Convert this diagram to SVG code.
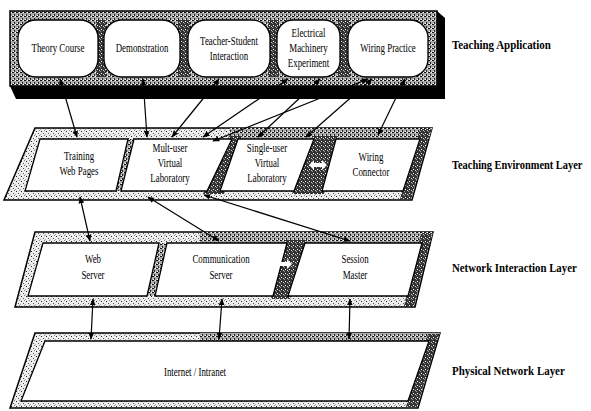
<svg xmlns="http://www.w3.org/2000/svg" width="591" height="411" viewBox="0 0 591 411">
<style>
.box{fill:#fff;stroke:#000;stroke-width:1.3}
.outer{stroke:#000;stroke-width:1.5}
.lbl{font-family:"Liberation Serif","Times New Roman",serif;font-size:12px;fill:#000;text-anchor:middle}
.layer{font-family:"Liberation Serif","Times New Roman",serif;font-size:13.5px;font-weight:bold;fill:#000}
.con{fill:none;stroke:#000;stroke-width:1.2;marker-start:url(#ah);marker-end:url(#ah)}
.warrow{fill:#fff;stroke:none}
</style>
<defs>
<pattern id="ht1" width="5" height="5" patternUnits="userSpaceOnUse"><rect width="5" height="5" fill="#eee"/><rect x="1" y="1" width="1" height="1" fill="#222"/><rect x="3" y="3" width="1" height="1" fill="#555"/><rect x="4" y="0" width="1" height="1" fill="#888"/><rect x="0" y="4" width="1" height="1" fill="#aaa"/></pattern>
<pattern id="ht2" width="4" height="4" patternUnits="userSpaceOnUse"><rect width="4" height="4" fill="#aaa"/><rect x="0" y="0" width="2" height="1" fill="#111"/><rect x="2" y="2" width="1" height="2" fill="#222"/><rect x="3" y="0" width="1" height="1" fill="#fff"/><rect x="1" y="3" width="1" height="1" fill="#fff"/></pattern>
<pattern id="ht3" width="4" height="4" patternUnits="userSpaceOnUse"><rect width="4" height="4" fill="#333"/><rect x="1" y="1" width="1" height="1" fill="#fff"/><rect x="3" y="2" width="1" height="1" fill="#ccc"/><rect x="0" y="3" width="1" height="1" fill="#999"/></pattern>
<marker id="ah" viewBox="0 0 10 10" refX="9" refY="5" markerWidth="7" markerHeight="7" markerUnits="userSpaceOnUse" orient="auto-start-reverse"><path d="M0,1 L10,5 L0,9 z" fill="#000"/></marker>
</defs>

<!-- Teaching Application layer -->
<g id="layer-application">
<polygon points="10,86 437,86 437,11 445,18 445,99 16,99" fill="#000"/>
<rect x="10" y="11" width="427" height="75" fill="url(#ht2)" class="outer"/>
<polygon points="96,20 106,20 106,77 96,77" fill="url(#ht3)"/>
<polygon points="178,20 190,20 190,77 178,77" fill="url(#ht3)"/>
<polygon points="268,20 279,20 279,77 268,77" fill="url(#ht3)"/>
<polygon points="338,20 350,20 350,77 338,77" fill="url(#ht3)"/>
<text class="layer" transform="translate(452 49) scale(0.81 1)">Teaching Application</text>
</g>
<g id="node-theory-course">
<rect class="box" x="18" y="20" width="80" height="57" rx="18"/>
<text class="lbl" transform="translate(58 52) scale(0.74 1)">Theory Course</text>
</g>
<g id="node-demonstration">
<rect class="box" x="104" y="20" width="76" height="57" rx="18"/>
<text class="lbl" transform="translate(142 52) scale(0.74 1)">Demonstration</text>
</g>
<g id="node-teacher-student">
<rect class="box" x="188" y="20" width="82" height="57" rx="18"/>
<text class="lbl" transform="translate(229 45) scale(0.74 1)">Teacher-Student</text>
<text class="lbl" transform="translate(229 60) scale(0.74 1)">Interaction</text>
</g>
<g id="node-electrical-machinery">
<rect class="box" x="277" y="20" width="63" height="57" rx="16"/>
<text class="lbl" transform="translate(308.5 37) scale(0.74 1)">Electrical</text>
<text class="lbl" transform="translate(308.5 52) scale(0.74 1)">Machinery</text>
<text class="lbl" transform="translate(308.5 67) scale(0.74 1)">Experiment</text>
</g>
<g id="node-wiring-practice">
<rect class="box" x="348" y="20" width="80" height="57" rx="18"/>
<text class="lbl" transform="translate(388 52) scale(0.74 1)">Wiring Practice</text>
</g>

<!-- Teaching Environment Layer -->
<g id="layer-environment">
<polygon class="outer" points="35,128 432,128 412,200 4,200" fill="url(#ht1)"/>
<polygon points="230,128 432,128 429,139 230,139" fill="url(#ht2)"/>
<polygon points="229,136 242,136 224,194 203,194" fill="url(#ht3)"/>
<polygon points="313,136 338,136 324,194 292,194" fill="url(#ht3)"/>
<polygon points="420,129 431,129 411,199 400,199" fill="url(#ht3)"/>
<polygon points="128,139 134,139 121,191 116,191" fill="url(#ht2)"/>
<text class="layer" transform="translate(452 169) scale(0.77 1)">Teaching Environment Layer</text>
</g>
<g id="node-training-web-pages">
<polygon class="box" points="40,139 128,139 116,191 25,191"/>
<text class="lbl" transform="translate(79 160) scale(0.74 1)">Training</text>
<text class="lbl" transform="translate(79 175) scale(0.74 1)">Web Pages</text>
</g>
<g id="node-multi-user-lab">
<polygon class="box" points="134,139 232,139 207,191 121,191"/>
<text class="lbl" transform="translate(170 152) scale(0.74 1)">Mult-user</text>
<text class="lbl" transform="translate(170 167) scale(0.74 1)">Virtual</text>
<text class="lbl" transform="translate(170 182) scale(0.74 1)">Laboratory</text>
</g>
<g id="node-single-user-lab">
<polygon class="box" points="238,139 314,139 294,191 220,191"/>
<text class="lbl" transform="translate(267 152) scale(0.74 1)">Single-user</text>
<text class="lbl" transform="translate(267 167) scale(0.74 1)">Virtual</text>
<text class="lbl" transform="translate(267 182) scale(0.74 1)">Laboratory</text>
</g>
<g id="node-wiring-connector">
<polygon class="box" points="336,139 420,139 403,191 322,191"/>
<text class="lbl" transform="translate(371 161) scale(0.74 1)">Wiring</text>
<text class="lbl" transform="translate(371 176) scale(0.74 1)">Connector</text>
</g>

<!-- Network Interaction Layer -->
<g id="layer-network-interaction">
<polygon class="outer" points="35,232 433,232 415,307 15,307" fill="url(#ht1)"/>
<polygon points="200,232 433,232 430,243 200,243" fill="url(#ht2)"/>
<polygon points="158,243 168,243 156,296 146,296" fill="url(#ht2)"/>
<polygon points="285,240 307,240 290,299 271,299" fill="url(#ht3)"/>
<polygon points="421,233 432,233 414,306 404,306" fill="url(#ht3)"/>
<text class="layer" transform="translate(452 272) scale(0.8 1)">Network Interaction Layer</text>
</g>
<g id="node-web-server">
<polygon class="box" points="43,243 159,243 147,296 28,296"/>
<text class="lbl" transform="translate(93 263) scale(0.74 1)">Web</text>
<text class="lbl" transform="translate(93 279) scale(0.74 1)">Server</text>
</g>
<g id="node-communication-server">
<polygon class="box" points="167,243 287,243 273,296 155,296"/>
<text class="lbl" transform="translate(221 263) scale(0.74 1)">Communication</text>
<text class="lbl" transform="translate(221 279) scale(0.74 1)">Server</text>
</g>
<g id="node-session-master">
<polygon class="box" points="305,243 422,243 408,296 288,296"/>
<text class="lbl" transform="translate(355 263) scale(0.74 1)">Session</text>
<text class="lbl" transform="translate(355 279) scale(0.74 1)">Master</text>
</g>

<!-- Physical Network Layer -->
<g id="layer-physical">
<polygon class="outer" points="35,333 440,333 418,408 10,408" fill="url(#ht1)"/>
<polygon points="200,333 440,333 437,341 200,341" fill="url(#ht2)"/>
<polygon points="428,334 439,334 417,407 406,407" fill="url(#ht3)"/>
<text class="layer" transform="translate(452 375) scale(0.81 1)">Physical Network Layer</text>
</g>
<g id="node-internet-intranet">
<polygon class="box" points="45,341 429,341 408,401 21,401"/>
<text class="lbl" transform="translate(195 376) scale(0.74 1)">Internet / Intranet</text>
</g>

<!-- connectors -->
<g id="connectors">
<line class="con" x1="60" y1="79" x2="77" y2="137"/>
<line class="con" x1="143" y1="79" x2="147" y2="137"/>
<line class="con" x1="219" y1="79" x2="172" y2="137"/>
<line class="con" x1="288" y1="79" x2="203" y2="137"/>
<line class="con" x1="320" y1="79" x2="258" y2="137"/>
<line class="con" x1="368" y1="79" x2="213" y2="141"/>
<line class="con" x1="372" y1="79" x2="306" y2="137"/>
<line class="con" x1="405" y1="79" x2="378" y2="135"/>
<line class="con" x1="80" y1="197" x2="90" y2="241"/>
<line class="con" x1="148" y1="197" x2="219" y2="241"/>
<line class="con" x1="204" y1="195" x2="350" y2="241"/>
<line class="con" x1="93" y1="299" x2="91" y2="339"/>
<line class="con" x1="222" y1="299" x2="219" y2="339"/>
<line class="con" x1="350" y1="299" x2="349" y2="339"/>
<polygon class="warrow" points="309,165 314,160 314,163 322,163 322,160 327,165 322,170 322,167 314,167 314,170"/>
<polygon class="warrow" points="274,264 279,259 279,262 287,262 287,259 292,264 287,269 287,266 279,266 279,269"/>
</g>
</svg>
